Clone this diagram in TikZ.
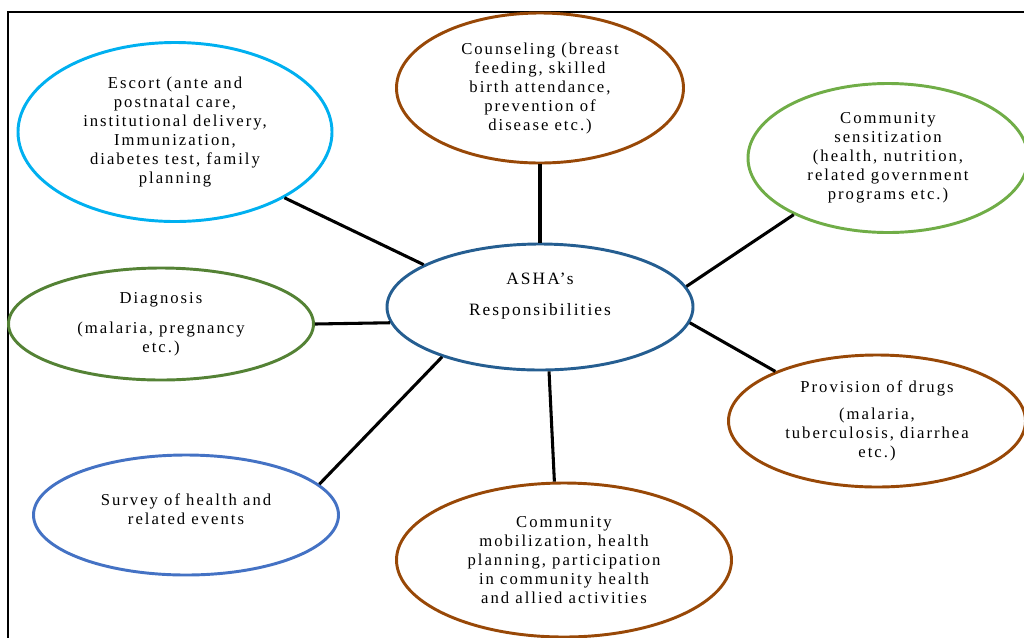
\documentclass[tikz,border=0pt]{standalone}
\usepackage{fontspec}
\setmainfont{Liberation Serif}[LetterSpace=12]
\usetikzlibrary{shapes.geometric}

\definecolor{skyblue}{RGB}{0,176,240}
\definecolor{rust}{RGB}{152,72,7}
\definecolor{leafgreen}{RGB}{112,173,71}
\definecolor{mossgreen}{RGB}{84,130,53}
\definecolor{navyblue}{RGB}{37,94,145}
\definecolor{surveyblue}{RGB}{68,114,196}

\tikzset{
  bubble/.style={ellipse, draw, line width=2.2pt, fill=white, inner sep=0pt,
    align=center, font=\fontsize{12.5}{14.25}\selectfont},
  link/.style={line width=2.3pt, black},
}

\begin{document}
\begin{tikzpicture}[x=0.75pt, y=-0.75pt]
    \useasboundingbox (0,0) rectangle (1024,637);
    \clip (0,0) rectangle (1024,637);

    % --- Frame ---
    \draw[line width=0.8pt] (8,640) -- (8,12) -- (1030,12);

    % --- Center ---
    \node[bubble, draw=navyblue, minimum width=229.5pt, minimum height=94.5pt,
      label={[align=center, yshift=8pt, font=\fontsize{13}{23}\selectfont]center:ASHA's\\Responsibilities}]
      (asha) at (540,307) {};

    % --- Tasks around it ---
    \node[bubble, draw=skyblue, minimum width=235.5pt, minimum height=134.25pt] (escort) at (175,132)
      {Escort (ante and\\postnatal care,\\institutional delivery,\\Immunization,\\diabetes test, family\\planning};
    \node[bubble, draw=rust, minimum width=215.25pt, minimum height=112.5pt] (counsel) at (540,88)
      {Counseling (breast\\feeding, skilled\\birth attendance,\\prevention of\\disease etc.)};
    \node[bubble, draw=leafgreen, minimum width=210pt, minimum height=111.75pt] (sensit) at (888,158)
      {Community\\sensitization\\(health, nutrition,\\related government\\programs etc.)};
    \node[bubble, draw=mossgreen, minimum width=228.75pt, minimum height=84pt] (diagnos) at (161,324)
      {Diagnosis\\[8pt](malaria, pregnancy\\etc.)};
    \node[bubble, draw=rust, minimum width=222.75pt, minimum height=99pt] (drugs) at (877,421)
      {Provision of drugs\\[6pt](malaria,\\tuberculosis, diarrhea\\etc.)};
    \node[bubble, draw=surveyblue, minimum width=228.75pt, minimum height=90pt,
      label={[align=center, yshift=4.5pt, font=\fontsize{12.5}{14.25}\selectfont]center:Survey of health and\\related events}]
      (survey) at (186,515) {};
    \node[bubble, draw=rust, minimum width=251.25pt, minimum height=115.5pt] (mobil) at (564,560)
      {Community\\mobilization, health\\planning, participation\\in community health\\and allied activities};

    % Links to the center
    \draw[link] (asha.160) -- (escort.-31);
    \draw[link] (asha.90) -- (counsel.-90);
    \draw[link] (asha.8) -- (sensit.211);
    \draw[link] (asha.186) -- (diagnos.0);
    \draw[link] (asha.-6) -- (drugs.154);
    \draw[link] (asha.207) -- (survey.13);
    \draw[link] (asha.-82) -- (mobil.97);

\end{tikzpicture}
\end{document}
